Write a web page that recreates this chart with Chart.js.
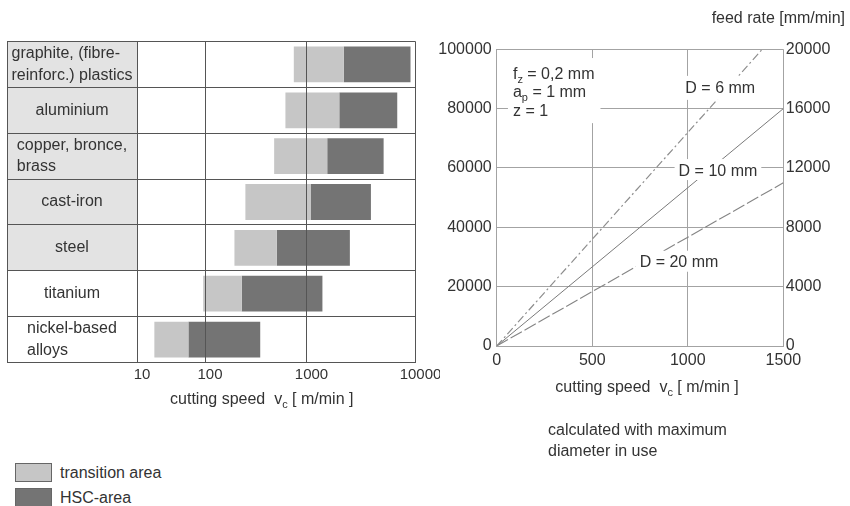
<!DOCTYPE html>
<html><head><meta charset="utf-8">
<script src="https://cdn.jsdelivr.net/npm/chart.js@4.4.1/dist/chart.umd.min.js"></script>
<style>
html,body{margin:0;padding:0;background:#fff;}
#wrap{position:relative;width:850px;height:506px;overflow:hidden;font-family:'Liberation Sans',Arial,sans-serif;color:#333;}
#c1{position:absolute;left:0;top:0;}
#c2{position:absolute;left:425px;top:0;}
#legend{position:absolute;left:15px;top:463px;font-size:16px;}
.li{display:flex;align-items:flex-start;height:25px;}
.sw{width:37px;height:19px;box-sizing:border-box;border:1px solid #666;margin-right:8px;}
.li span{position:relative;top:0px;line-height:19px;}
#note{position:absolute;left:548px;top:418.5px;font-size:16px;line-height:21px;}
#feed{position:absolute;right:5px;top:8px;font-size:16px;line-height:20px;}
</style></head>
<body><div id="wrap">
<canvas id="c1" width="440" height="420"></canvas>
<canvas id="c2" width="425" height="420"></canvas>
<div id="feed">feed rate [mm/min]</div>
<div id="note">calculated with maximum<br>diameter in use</div>
<div id="legend"></div>
</div>
<script>
// ---------- data: left chart ----------
const materials = [
  ['graphite, (fibre-', 'reinforc.) plastics'],
  ['aluminium'],
  ['copper, bronce,', 'brass'],
  ['cast-iron'],
  ['steel'],
  ['titanium'],
  ['nickel-based', 'alloys']
];
const transitionArea = [[750, 2200], [620, 2000], [480, 1550], [250, 1100], [195, 510], [94, 230], [18, 57]];
const hscArea        = [[2200, 9000], [2000, 6800], [1550, 5100], [1100, 3900], [510, 2500], [230, 1400], [57, 350]];
const speedTicksLog = [10, 100, 1000, 10000];
const seriesNames = ['transition area', 'HSC-area'];

// ---------- data: right chart ----------
const speedD6 = [0, 1390],  rpmD6 = [0, 100000];
const speedD10 = [0, 1500], rpmD10 = [0, 80000];
const speedD20 = [0, 1500], rpmD20 = [0, 55000];
const speedTicks = [0, 500, 1000, 1500];
const rpmTicks = [0, 20000, 40000, 60000, 80000, 100000];
const feedTicks = [0, 4000, 8000, 12000, 16000, 20000];

// ---------- styles ----------
const FAM = "'Liberation Sans', Arial, sans-serif";
const TXT = '#333';
const barColors = ['#c6c6c6', '#747474'];
const shadedRows = 5;
const decadeFractions = [0, 0.2442, 0.6086, 1]; // scan's uneven decade spacing

// custom log scale reproducing the drawing's decade spacing
const LogBase = Chart.LogarithmicScale || Chart.registry.getScale('logarithmic');
class WarpedLogScale extends LogBase {
  getPixelForValue(value) {
    if (value === undefined || value === null || !(value > 0)) value = this.min;
    const l = Math.log10(value) - Math.log10(this.min);
    const n = decadeFractions.length - 2;
    const i = Math.max(0, Math.min(n, Math.floor(l)));
    const f = decadeFractions[i] + (l - i) * (decadeFractions[i + 1] - decadeFractions[i]);
    return this.getPixelForDecimal(f);
  }
  getValueForPixel(pixel) {
    const d = this.getDecimalForPixel(pixel);
    let i = 0;
    while (i < decadeFractions.length - 2 && d > decadeFractions[i + 1]) i++;
    const l = i + (d - decadeFractions[i]) / (decadeFractions[i + 1] - decadeFractions[i]);
    return Math.pow(10, Math.log10(this.min) + l);
  }
}
WarpedLogScale.id = 'warpedLog';
WarpedLogScale.defaults = LogBase.defaults;
Chart.register(WarpedLogScale);

function drawParts(ctx, parts, x, y, align) {
  const mainF = '16px ' + FAM, subF = '11px ' + FAM;
  let w = 0;
  parts.forEach(p => { ctx.font = p[1] ? subF : mainF; w += ctx.measureText(p[0]).width; });
  let cx = align === 'center' ? x - w / 2 : x;
  ctx.textAlign = 'left'; ctx.textBaseline = 'alphabetic'; ctx.fillStyle = TXT;
  parts.forEach(p => {
    ctx.font = p[1] ? subF : mainF;
    ctx.fillText(p[0], cx, y + 5.5 + (p[1] ? 4 : 0));
    cx += ctx.measureText(p[0]).width;
  });
  return w;
}

const labelColumn = {
  id: 'labelColumn',
  beforeDraw(chart) {
    const {ctx, chartArea} = chart;
    const ys = chart.scales.y;
    const left = ys.left;
    const rowH = (chartArea.bottom - chartArea.top) / materials.length;
    ctx.save();
    ctx.fillStyle = '#e3e3e3';
    for (let i = 0; i < shadedRows; i++) {
      ctx.fillRect(left, chartArea.top + i * rowH, chartArea.left - left, rowH);
    }
    ctx.restore();
  },
  afterDraw(chart) {
    const {ctx, chartArea} = chart;
    const ys = chart.scales.y;
    const left = ys.left;
    const cx = (left + chartArea.left) / 2;
    ctx.save();
    ctx.strokeStyle = '#555'; ctx.lineWidth = 1;
    ctx.beginPath(); ctx.moveTo(Math.round(left) + 0.5, chartArea.top); ctx.lineTo(Math.round(left) + 0.5, chartArea.bottom); ctx.stroke();
    ctx.font = '16px ' + FAM; ctx.fillStyle = TXT; ctx.textBaseline = 'middle'; ctx.textAlign = 'left';
    materials.forEach((lines, i) => {
      const yc = ys.getPixelForValue(i);
      const w = Math.max(...lines.map(t => ctx.measureText(t).width));
      const x0 = cx - w / 2;
      lines.forEach((t, k) => {
        const y = yc + (k - (lines.length - 1) / 2) * 21.5;
        ctx.fillText(t, x0, y);
      });
    });
    const mid = (chartArea.left + chartArea.right) / 2 - 14.5;
    drawParts(ctx, [['cutting speed  v'], ['c', true], [' [ m/min ]']], mid, 398.3, 'center');
    ctx.restore();
  }
};

const chart1 = new Chart(document.getElementById('c1'), {
  type: 'bar',
  data: {
    labels: materials.map(l => l.join(' ')),
    datasets: [
      {label: seriesNames[0], data: transitionArea, backgroundColor: barColors[0], borderWidth: 0, grouped: false, barPercentage: 0.78, categoryPercentage: 1},
      {label: seriesNames[1], data: hscArea, backgroundColor: barColors[1], borderWidth: 0, grouped: false, barPercentage: 0.78, categoryPercentage: 1}
    ]
  },
  options: {
    indexAxis: 'y', responsive: false, animation: false,
    layout: {padding: {left: 7, top: 41.5, right: 24.5, bottom: 0}},
    plugins: {legend: {display: false}, tooltip: {enabled: false}},
    scales: {
      x: {
        type: 'warpedLog', min: 10, max: 10000,
        afterBuildTicks: s => { s.ticks = speedTicksLog.map(v => ({value: v})); },
        afterFit: s => { s.height = 57.5; },
        grid: {color: '#555', lineWidth: 1, drawTicks: false, z: 1},
        border: {color: '#555', z: 2},
        ticks: {callback: v => String(v), font: {size: 15, family: FAM}, color: TXT, padding: 3, labelOffset: 5, maxRotation: 0, autoSkip: false}
      },
      y: {
        type: 'category', offset: true,
        afterFit: s => { s.width = 130; },
        grid: {color: '#555', lineWidth: 1, offset: true, drawTicks: true, tickLength: 130, tickColor: '#555', z: 1},
        border: {color: '#555', z: 2},
        ticks: {display: false}
      }
    }
  },
  plugins: [labelColumn]
});

// legend (from series names & colours)
document.getElementById('legend').innerHTML = seriesNames.map((n, i) =>
  `<div class="li"><div class="sw" style="background:${barColors[i]}"></div><span>${n}</span></div>`).join('');

// ---------- right chart ----------
const annotations = [
  {parts: [['f'], ['z', true], [' = 0,2 mm']], x: 85, y: 92000, align: 'left'},
  {parts: [['a'], ['p', true], [' = 1 mm']], x: 85, y: 85700, align: 'left'},
  {parts: [['z = 1']], x: 85, y: 79500, align: 'left'},
  {parts: [['D = 6 mm']], x: 1170, y: 87000, align: 'center', box: [4, 4, 12, 12]},
  {parts: [['D = 10 mm']], x: 1158, y: 59300, align: 'center', box: [4, 4, 11, 10]},
  {parts: [['D = 20 mm']], x: 954, y: 28400, align: 'center', box: [4, 4, 11, 10]}
];
const annotPlugin = {
  id: 'annot',
  afterDraw(chart) {
    const {ctx, chartArea} = chart;
    const xs = chart.scales.x, ys = chart.scales.y;
    ctx.save();
    const blk = annotations.filter(a => a.align === 'left');
    const bx = xs.getPixelForValue(blk[0].x);
    let bw = 0;
    blk.forEach(a => { bw = Math.max(bw, a.parts.reduce((s, p) => { ctx.font = (p[1] ? '11px ' : '16px ') + FAM; return s + ctx.measureText(p[0]).width; }, 0)); });
    const by0 = ys.getPixelForValue(blk[0].y) - 15, by1 = ys.getPixelForValue(blk[blk.length - 1].y) + 13;
    ctx.fillStyle = '#fff';
    ctx.fillRect(bx - 5, by0, bw + 11, by1 - by0);
    annotations.forEach(a => {
      const px = xs.getPixelForValue(a.x), py = ys.getPixelForValue(a.y);
      if (a.box) {
        ctx.font = '16px ' + FAM;
        const w = ctx.measureText(a.parts[0][0]).width;
        ctx.fillStyle = '#fff';
        ctx.fillRect(px - w / 2 - a.box[0], py - a.box[2], w + a.box[0] + a.box[1], a.box[2] + a.box[3]);
      }
      drawParts(ctx, a.parts, px, py, a.align);
    });
    const mid = (chartArea.left + chartArea.right) / 2 + 7;
    drawParts(ctx, [['cutting speed  v'], ['c', true], [' [ m/min ]']], mid, 386.7, 'center');
    ctx.restore();
  }
};

const zip = (xs, ys) => xs.map((x, i) => ({x, y: ys[i]}));
const gridCol = '#a3a3a3';
const tickFont = {size: 16, family: FAM};
const chart2 = new Chart(document.getElementById('c2'), {
  type: 'line',
  data: {
    datasets: [
      {label: 'D = 6 mm', data: zip(speedD6, rpmD6), borderColor: '#8e8e8e', borderWidth: 1.2, borderDash: [8, 3, 2, 3], pointRadius: 0, fill: false},
      {label: 'D = 10 mm', data: zip(speedD10, rpmD10), borderColor: '#7a7a7a', borderWidth: 1, pointRadius: 0, fill: false},
      {label: 'D = 20 mm', data: zip(speedD20, rpmD20), borderColor: '#858585', borderWidth: 1.1, borderDash: [13, 3], pointRadius: 0, fill: false}
    ]
  },
  options: {
    responsive: false, animation: false,
    layout: {padding: {left: 0, right: 0, top: 49.3, bottom: 0}},
    plugins: {legend: {display: false}, tooltip: {enabled: false}},
    scales: {
      x: {
        type: 'linear', min: 0, max: 1500,
        afterBuildTicks: s => { s.ticks = speedTicks.map(v => ({value: v})); },
        afterFit: s => { s.height = 74; },
        grid: {color: gridCol, drawTicks: false},
        border: {color: gridCol},
        ticks: {font: tickFont, color: TXT, padding: 4.5, maxRotation: 0, callback: v => String(v)}
      },
      y: {
        type: 'linear', min: 0, max: 100000,
        afterBuildTicks: s => { s.ticks = rpmTicks.map(v => ({value: v})); },
        afterFit: s => { s.width = 71.7; },
        grid: {color: gridCol, drawTicks: false},
        border: {color: gridCol},
        ticks: {font: tickFont, color: TXT, padding: 5, callback: v => String(v)}
      },
      y1: {
        type: 'linear', position: 'right', min: 0, max: 20000,
        afterBuildTicks: s => { s.ticks = feedTicks.map(v => ({value: v})); },
        afterFit: s => { s.width = 66.7; },
        grid: {display: false, drawTicks: false},
        border: {display: false},
        ticks: {font: tickFont, color: TXT, padding: 2.5, callback: v => String(v)}
      }
    }
  },
  plugins: [annotPlugin]
});
</script>
</body></html>
